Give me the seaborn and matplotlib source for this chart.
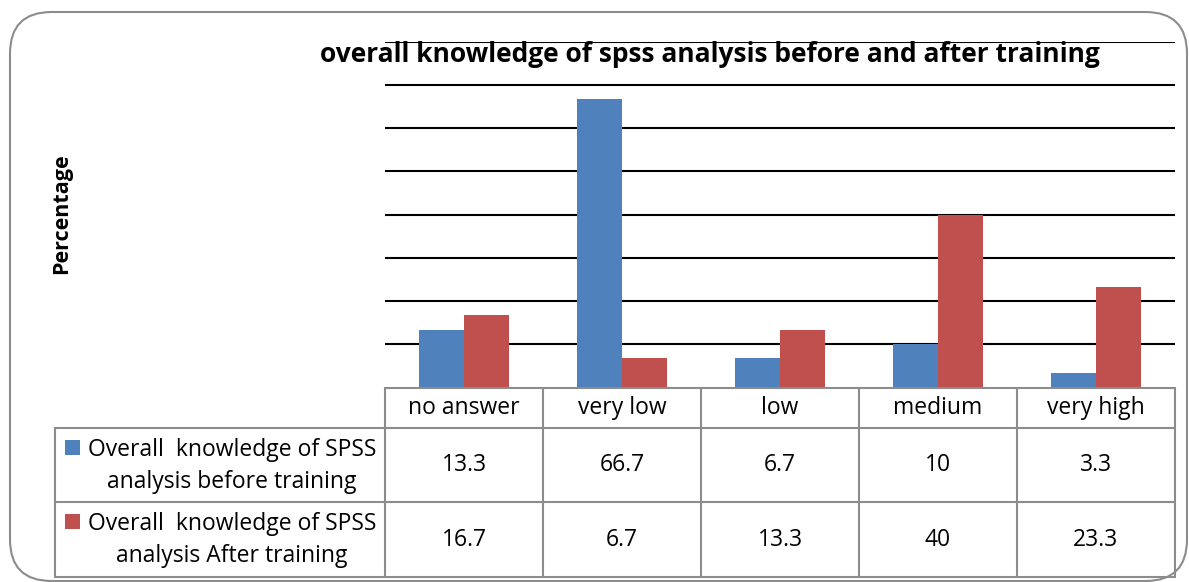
import numpy as np
import pandas as pd
import matplotlib
matplotlib.use("Agg")
import matplotlib.pyplot as plt
import matplotlib.transforms as mtransforms
from matplotlib.patches import FancyBboxPatch, Rectangle
from matplotlib.lines import Line2D
import seaborn as sns

categories = ["no answer", "very low", "low", "medium", "very high"]
before = [13.3, 66.7, 6.7, 10, 3.3]
after = [16.7, 6.7, 13.3, 40, 23.3]
series_names = ["Overall  knowledge of SPSS\nanalysis before training",
                "Overall  knowledge of SPSS\nanalysis After training"]
value_labels = [["13.3", "66.7", "6.7", "10", "3.3"],
                ["16.7", "6.7", "13.3", "40", "23.3"]]
title = "overall knowledge of spss analysis before and after training"
ylabel = "Percentage"

colors = ["#4F81BD", "#C0504D"]

sns.set_theme(style="white")
plt.rcParams['font.family'] = ['Open Sans', 'DejaVu Sans']

W, H = 1189, 582
fig = plt.figure(figsize=(W / 100, H / 100), dpi=100)

def fx(px):
    return px / W

def fy(py):
    return 1 - py / H

# outer rounded frame
frame = FancyBboxPatch((fx(10), fy(581)), fx(1187) - fx(10), fy(12) - fy(581),
                       boxstyle="round,pad=0,rounding_size=0.035",
                       transform=fig.transFigure, facecolor="white",
                       edgecolor="#8c8c8c", linewidth=1.5, mutation_aspect=W / H,
                       zorder=-10)
fig.patches.append(frame)

ax = fig.add_axes([fx(385), fy(387), fx(1175) - fx(385), fy(42) - fy(387)])
df = pd.DataFrame({
    "category": categories * 2,
    "value": before + after,
    "series": [series_names[0]] * len(categories) + [series_names[1]] * len(categories),
})
sns.barplot(data=df, x="category", y="value", hue="series", palette=colors,
            width=0.57, ax=ax, legend=False, saturation=1, edgecolor="none")
ax.set_ylim(0, 80)
ax.set_xlim(-0.5, len(categories) - 0.5)
ax.set_yticks(np.arange(10, 81, 10))
ax.yaxis.grid(True, color="black", linewidth=1.5)
ax.set_axisbelow(True)
ax.set_yticklabels([])
ax.set_xticks([])
ax.set_xlabel("")
ax.set_ylabel("")
for s in ax.spines.values():
    s.set_visible(False)
ax.patch.set_alpha(0)

fig.text(fx(710), fy(55), title, ha="center", va="center", fontsize=19,
         fontweight="bold", color="black")
fig.text(fx(62), fy(214), ylabel, ha="center", va="center", rotation=90,
         fontsize=15.5, fontweight="bold", color="black")

# data table
gcol = "#8c8c8c"
lw = 1.5
col_edges = [385, 543, 701, 859, 1017, 1175]
for xe in col_edges:
    fig.add_artist(Line2D([fx(xe), fx(xe)], [fy(388), fy(577)], color=gcol, lw=lw,
                          transform=fig.transFigure))
fig.add_artist(Line2D([fx(55), fx(55)], [fy(428), fy(577)], color=gcol, lw=lw,
                      transform=fig.transFigure))
fig.add_artist(Line2D([fx(385), fx(1175)], [fy(388), fy(388)], color=gcol, lw=lw,
                      transform=fig.transFigure))
for yy in [428, 502, 577]:
    fig.add_artist(Line2D([fx(55), fx(1175)], [fy(yy), fy(yy)], color=gcol, lw=lw,
                          transform=fig.transFigure))

trans = mtransforms.blended_transform_factory(ax.transData, fig.transFigure)
for i, c in enumerate(categories):
    fig.text(i, fy(408), c, transform=trans, ha="center", va="center",
             fontsize=16.5, color="black")
row_y = [465, 540]
for r in range(2):
    for i in range(len(categories)):
        fig.text(i, fy(row_y[r]), value_labels[r][i], transform=trans,
                 ha="center", va="center", fontsize=16.5, color="black")
    fig.add_artist(Rectangle((fx(65), fy(455 + 74 * r)), fx(15), fy(440) - fy(455),
                             transform=fig.transFigure, facecolor=colors[r],
                             edgecolor="none"))
    fig.text(fx(232), fy(466 + 74 * r), series_names[r], ha="center", va="center",
             fontsize=16.5, color="black", linespacing=1.5)

fig.savefig("out.png", dpi=100)
